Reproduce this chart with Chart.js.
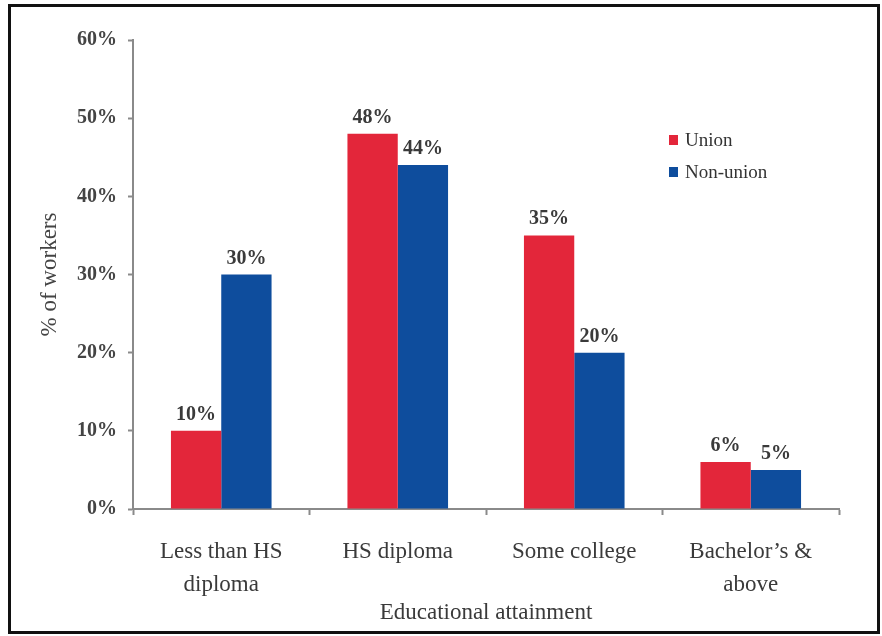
<!DOCTYPE html>
<html>
<head>
<meta charset="utf-8">
<script src="https://cdn.jsdelivr.net/npm/chart.js@4.4.1/dist/chart.umd.min.js"></script>
<style>
  html, body { margin: 0; padding: 0; background: #fff; }
  #wrap { position: relative; width: 882px; height: 636px; }
  canvas { display: block; }
</style>
</head>
<body>
<div id="wrap"><canvas id="chart" width="882" height="636"></canvas></div>
<script>
// Share of workers by educational attainment, union vs. non-union
const categories = [
  ['Less than HS', 'diploma'],
  ['HS diploma'],
  ['Some college'],
  ['Bachelor\u2019s &', 'above']
];
const unionValues = [10, 48, 35, 6];
const nonUnionValues = [30, 44, 20, 5];
const yTicks = [0, 10, 20, 30, 40, 50, 60];

const RED = '#e3263a';
const BLUE = '#0e4d9d';
const SERIF = '"Liberation Serif", "Times New Roman", serif';

// Outer frame around the whole figure
const framePlugin = {
  id: 'frame',
  afterDraw(chart) {
    const ctx = chart.ctx;
    ctx.save();
    ctx.strokeStyle = '#111';
    ctx.lineWidth = 3;
    ctx.strokeRect(9.5, 5.5, 869, 627);
    ctx.restore();
  }
};

// Percent labels above each bar
const valueLabels = {
  id: 'valueLabels',
  afterDatasetsDraw(chart) {
    const ctx = chart.ctx;
    ctx.save();
    ctx.font = 'bold 20px ' + SERIF;
    ctx.fillStyle = '#3a3a3a';
    ctx.textAlign = 'center';
    ctx.textBaseline = 'alphabetic';
    chart.data.datasets.forEach((ds, i) => {
      chart.getDatasetMeta(i).data.forEach((bar, j) => {
        ctx.fillText(ds.data[j] + '%', bar.x, bar.y - 11);
      });
    });
    ctx.restore();
  }
};

// Legend placed inside the plot, to the right
const insideLegend = {
  id: 'insideLegend',
  afterDraw(chart) {
    const ctx = chart.ctx;
    ctx.save();
    ctx.font = '19px ' + SERIF;
    ctx.textBaseline = 'middle';
    ctx.textAlign = 'left';
    const x0 = 669, y0 = 140, step = 32;
    chart.data.datasets.forEach((ds, i) => {
      const y = y0 + i * step;
      ctx.fillStyle = ds.backgroundColor;
      ctx.fillRect(x0, y - 5, 9, 10);
      ctx.fillStyle = '#333';
      ctx.fillText(ds.label, x0 + 16, y + 1);
    });
    ctx.restore();
  }
};

new Chart(document.getElementById('chart'), {
  type: 'bar',
  data: {
    labels: categories,
    datasets: [
      { label: 'Union', data: unionValues, backgroundColor: RED,
        categoryPercentage: 0.57, barPercentage: 1.0 },
      { label: 'Non-union', data: nonUnionValues, backgroundColor: BLUE,
        categoryPercentage: 0.57, barPercentage: 1.0 }
    ]
  },
  options: {
    responsive: false,
    animation: false,
    devicePixelRatio: 1,
    layout: { padding: { left: 0, top: 40, right: 43, bottom: 0 } },
    plugins: {
      legend: { display: false },
      tooltip: { enabled: false }
    },
    scales: {
      x: {
        offset: true,
        grid: {
          offset: true,
          drawOnChartArea: false,
          drawTicks: true,
          tickLength: 6,
          tickColor: '#8a8a8a',
          tickWidth: 2
        },
        border: { display: true, color: '#8a8a8a', width: 2 },
        ticks: {
          color: '#3a3a3a',
          font: { family: SERIF, size: 23, lineHeight: 1.45 },
          padding: 20,
          maxRotation: 0,
          autoSkip: false
        },
        title: {
          display: true,
          text: 'Educational attainment',
          color: '#3a3a3a',
          font: { family: SERIF, size: 23 },
          padding: { top: 0, bottom: 9 }
        },
        afterFit(scale) { scale.height = 127; }
      },
      y: {
        min: 0,
        max: 60,
        afterBuildTicks(scale) { scale.ticks = yTicks.map(v => ({ value: v })); },
        grid: {
          drawOnChartArea: false,
          drawTicks: true,
          tickLength: 5,
          tickColor: '#8a8a8a',
          tickWidth: 2
        },
        border: { display: true, color: '#8a8a8a', width: 2 },
        ticks: {
          color: '#444',
          font: { family: SERIF, size: 20, weight: 'bold' },
          padding: 11,
          callback: v => v + '%'
        },
        title: {
          display: true,
          text: '% of workers',
          color: '#444',
          font: { family: SERIF, size: 23 },
          padding: { top: 36, bottom: 0 }
        },
        afterFit(scale) { scale.width = 133; }
      }
    }
  },
  plugins: [framePlugin, valueLabels, insideLegend]
});
</script>
</body>
</html>
